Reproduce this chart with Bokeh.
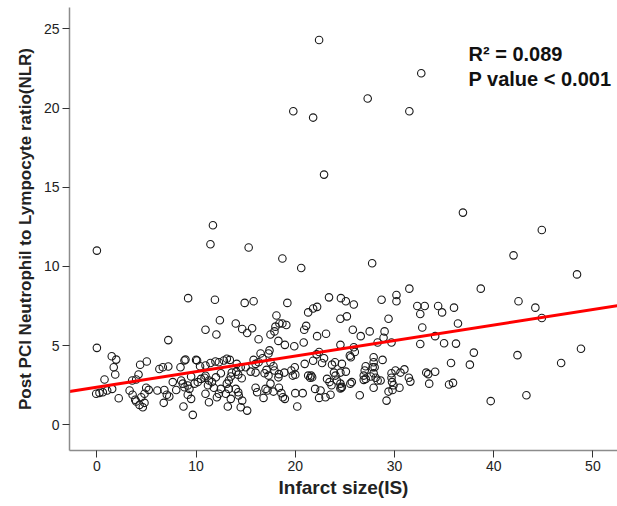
from bokeh.plotting import figure
from bokeh.models import Range1d, Label, FixedTicker, ColumnDataSource
from bokeh.embed import file_html
from bokeh.resources import INLINE

# ---- data ----
infarct_size = [
    22.4, 32.7, 19.8, 21.8, 27.3, 31.5, 22.9, 36.9, 11.7, 0.0, 11.45, 15.3, 18.7, 20.6, 27.75, 44.85, 42.0, 48.4,
    9.2, 11.9, 14.9, 15.8, 19.2, 22.2, 23.4, 24.6, 25.1, 25.9, 31.5, 38.7, 28.7, 30.2, 30.2, 32.3, 33.05, 34.4,
    36.0, 42.5, 44.2, 44.85, 32.6, 34.8, 21.3, 21.8,
    25.2, 24.55, 29.4, 36.4, 32.8, 25.8, 27.5, 26.6, 29.0, 28.9, 28.3, 29.7, 32.6, 34.1, 35.0, 36.2, 24.55, 25.9,
    26.0, 38.0, 25.5, 25.6, 27.9, 27.9, 27.8, 28.0, 28.8, 35.7, 37.6, 27.1, 27.0, 26.9, 26.9, 27.1, 25.1, 24.55,
    27.9, 28.1, 27.6, 28.6, 28.3, 29.7, 29.7, 29.75, 30.1, 30.6, 31.0, 31.45, 31.6, 33.2, 33.4, 34.1, 33.5, 35.5,
    35.9, 30.5, 29.8, 29.4, 29.9, 27.9, 24.7, 24.55, 25.55, 25.7, 26.5, 29.2,
    42.4, 48.8, 46.8, 39.7, 43.3,
    12.4, 18.1, 14.0, 14.65, 15.65, 15.15, 12.05, 10.95, 16.3, 17.5, 17.9, 18.0, 18.4, 18.7, 19.1, 20.9, 21.1,
    23.1, 22.2, 18.3, 18.95, 19.9, 20.85, 17.4, 17.3, 16.5, 16.7, 15.8, 16.0, 16.3, 22.4, 22.15, 21.8, 22.9, 22.7,
    24.0, 23.7, 24.7, 20.95, 19.95, 19.6, 19.75, 20.0, 18.9, 17.8, 17.9, 18.35, 18.3, 17.5, 17.1, 16.9, 17.3,
    10.95, 11.45, 11.95, 12.3, 12.8, 13.1, 13.4, 14.1, 14.5, 14.05, 14.25, 14.6, 15.0, 15.5, 16.0, 13.6, 13.5,
    13.3, 12.5, 12.0, 11.3, 11.6, 10.95, 11.2, 10.95, 11.3, 11.8, 12.3, 12.5, 12.1, 13.1, 13.3, 13.0, 13.5, 14.0,
    14.25, 14.3, 14.65, 14.5, 15.15, 13.2, 16.0, 16.15, 16.8, 17.0, 17.2, 17.5, 17.8, 18.35, 18.6, 18.75, 18.95,
    20.0, 20.2, 20.75, 21.3, 21.5, 21.6, 21.7, 22.0, 22.55, 22.4, 23.2, 23.45, 23.65, 24.2, 24.55, 24.65, 24.05,
    23.9, 23.05, 23.55,
    7.2, 0.0, 1.5, 1.95, 1.7, 1.85, 0.77, -0.07, 0.26, 0.6, 1.04, 1.54, 2.2, 3.56, 3.96, 4.2, 4.36, 5.03, 3.3,
    3.6, 3.86, 3.96, 4.3, 4.63, 4.8, 4.47, 4.97, 5.23, 4.8, 6.74, 7.3, 6.1, 6.8, 7.05, 6.3, 6.65, 7.2, 7.65, 8.0,
    8.5, 8.66, 8.83, 9.16, 9.33, 8.43, 8.83, 8.93, 10.0, 10.1, 9.5, 9.84, 10.17, 10.5, 10.85, 9.16, 9.5, 8.73,
    9.67, 10.4,
]
nlr = [
    24.3, 22.2, 19.8, 19.4, 20.6, 19.8, 15.8, 13.4, 12.6, 11.0, 11.4, 11.2, 10.5, 9.9, 10.2, 12.3, 10.7, 9.5,
    8.0, 7.9, 7.7, 7.8, 7.7, 7.45, 8.05, 8.0, 7.8, 7.6, 8.6, 8.6, 7.9, 8.2, 7.8, 7.5, 7.5, 7.5,
    7.4, 7.8, 7.4, 6.75, 7.0, 7.1, 7.1, 7.35,
    6.85, 6.7, 6.7, 6.4, 6.15, 6.0, 5.9, 5.6, 5.9, 5.5, 5.2, 5.2, 5.1, 5.6, 5.15, 5.13, 5.05, 4.9,
    4.6, 4.56, 4.37, 4.27, 4.27, 3.95, 3.64, 3.64, 4.1, 3.9, 3.8, 3.7, 3.43, 3.11, 2.84, 2.9, 3.36, 3.3,
    3.26, 2.97, 3.05, 2.8, 2.8, 3.26, 2.97, 2.7, 3.43, 3.3, 3.5, 2.97, 2.73, 3.3, 3.2, 3.35, 2.6, 2.55,
    2.65, 2.34, 2.2, 2.1, 2.5, 2.34, 2.4, 2.3, 2.6, 2.7, 1.87, 1.53,
    4.4, 4.8, 3.9, 1.5, 1.87,
    6.6, 6.9, 6.4, 6.05, 6.1, 5.8, 5.7, 6.0, 5.4, 5.7, 5.9, 6.2, 6.4, 6.4, 6.3, 6.0, 6.25,
    5.75, 5.6, 5.3, 5.05, 4.96, 5.2, 4.7, 4.5, 4.5, 4.2, 4.1, 3.85, 3.95, 4.6, 4.45, 4.05, 4.2, 3.9,
    3.95, 3.8, 3.85, 3.85, 3.64, 3.43, 3.11, 3.17, 3.3, 3.7, 3.43, 3.2, 3.0, 3.95, 3.47, 3.26, 3.11,
    3.75, 3.9, 4.0, 3.95, 4.06, 4.17, 4.1, 3.85, 3.64, 3.36, 3.17, 2.94, 3.64, 3.36, 3.3, 3.3, 3.05,
    2.8, 3.26, 3.0, 2.8, 2.7, 3.1, 2.5, 1.96, 1.43, 2.34, 1.96, 2.27, 1.74, 2.6, 2.27, 1.96, 1.64, 2.27,
    2.06, 1.85, 1.53, 1.11, 0.9, 1.16, 2.34, 2.06, 1.7, 2.27, 2.17, 2.6, 2.1, 2.34, 2.0, 1.74, 1.64,
    2.0, 1.16, 2.0, 3.11, 2.97, 3.11, 3.0, 2.27, 2.17, 1.7, 2.9, 2.7, 2.5, 2.8, 2.6, 2.34, 3.11,
    3.3, 1.74, 1.9,
    5.35, 4.86, 4.33, 4.12, 3.64, 3.18, 2.86, 1.96, 2.02, 2.06, 2.17, 2.27, 1.68, 2.8, 2.86, 3.18, 3.79, 4.0, 2.17,
    1.9, 1.58, 1.47, 1.26, 1.11, 1.39, 1.74, 2.34, 2.21, 1.96, 1.39, 1.79, 2.17, 2.2, 1.9, 3.53, 3.64, 3.68, 2.7, 2.2,
    2.8, 2.6, 2.37, 2.48, 2.27, 3.64, 4.06, 4.12, 4.1, 4.06, 3.05, 2.6, 2.7, 2.9, 2.97, 1.9, 1.64, 1.16,
    0.63, 3.7,
]

x_ticks = [0, 10, 20, 30, 40, 50]
y_ticks = [0, 5, 10, 15, 20, 25]

fit_intercept = 2.38
fit_slope = 0.098
r2_text = "R\u00b2 = 0.089"
p_text = "P value < 0.001"

x_title = "Infarct size(IS)"
y_title = "Post PCI Neutrophil to Lympocyte ratio(NLR)"

# ---- figure ----
x_lo, x_hi = -2.76, 52.48
y_lo, y_hi = -1.62, 26.35

p = figure(width=617, height=506, output_backend="svg", toolbar_location=None,
           x_range=Range1d(x_lo, x_hi), y_range=Range1d(y_lo, y_hi),
           min_border_left=69, min_border_right=0, min_border_top=7, min_border_bottom=56)
p.outline_line_color = None
p.xgrid.visible = False
p.ygrid.visible = False
p.background_fill_color = "white"
p.border_fill_color = "white"

src = ColumnDataSource(dict(x=infarct_size, y=nlr))
p.scatter("x", "y", source=src, size=7.5, marker="circle", fill_color=None,
          line_color="#1a1a1a", line_width=1.1)

fit_x = [x_lo, x_hi]
fit_y = [fit_intercept + fit_slope * v for v in fit_x]
p.line(fit_x, fit_y, line_color="#ff0000", line_width=3)

font = "Liberation Sans"
for ax in (p.xaxis[0], p.yaxis[0]):
    ax.axis_line_color = "#8c8c8c"
    ax.axis_line_width = 1.5
    ax.major_tick_line_color = "#333333"
    ax.major_tick_out = 7
    ax.major_tick_in = 0
    ax.minor_tick_out = 0
    ax.minor_tick_in = 0
    ax.major_label_text_font = font
    ax.major_label_text_font_size = "14px"
    ax.major_label_text_color = "#222222"
    ax.axis_label_text_font = font
    ax.axis_label_text_font_style = "bold"
    ax.axis_label_text_color = "#222222"

p.xaxis.ticker = FixedTicker(ticks=x_ticks)
p.yaxis.ticker = FixedTicker(ticks=y_ticks)
p.xaxis.axis_label = x_title
p.yaxis.axis_label = y_title
p.xaxis.axis_label_text_font_size = "19px"
p.yaxis.axis_label_text_font_size = "17px"
p.xaxis.major_label_standoff = 3
p.yaxis.major_label_standoff = 3
p.xaxis.axis_label_standoff = 3
p.yaxis.axis_label_standoff = 6

for txt, yy in ((r2_text, 396.7), (p_text, 371.7)):
    p.add_layout(Label(x=399, y=yy, x_units="screen", y_units="screen", text=txt,
                       text_font=font, text_font_style="bold", text_font_size="20px",
                       text_color="#111111", text_baseline="alphabetic"))

open("out.html", "w").write(file_html(p, INLINE))
